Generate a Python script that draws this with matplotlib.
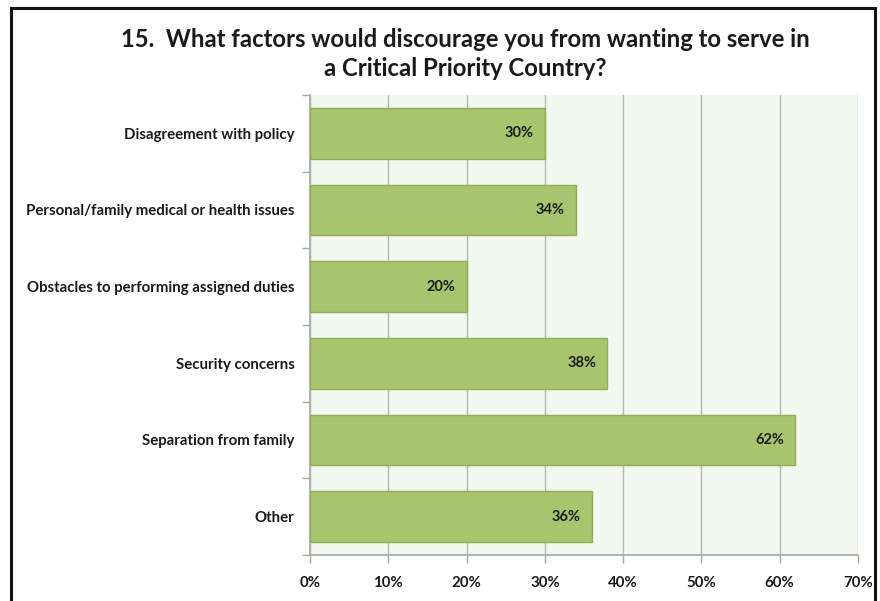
import numpy as np
import matplotlib.pyplot as plt
from matplotlib.patches import Rectangle
from matplotlib.ticker import FuncFormatter

categorias = ["Disagreement with policy",
              "Personal/family medical or health issues",
              "Obstacles to performing assigned duties",
              "Security concerns",
              "Separation from family",
              "Other"]
valores = [30, 34, 20, 38, 62, 36]
titulo = "15.  What factors would discourage you from wanting to serve in\na Critical Priority Country?"

plt.rcParams['font.family'] = ['Lato', 'DejaVu Sans']

fig = plt.figure(figsize=(8.8, 6.01), dpi=100)
W, H = 880, 601
ax = fig.add_axes([310 / W, 1 - 555 / H, (858 - 310) / W, (555 - 95) / H])

# moldura do grafico
fig.patches.append(Rectangle((11 / W, -0.01), (875 - 11) / W, 1 - 8 / H + 0.01,
                             transform=fig.transFigure, fill=False,
                             edgecolor='#111111', linewidth=2.2))

y = np.arange(len(categorias))
ax.barh(y, valores, height=0.66, color='#A9C46E', edgecolor='#8DAE52',
        linewidth=1, zorder=3)

for yi, v in zip(y, valores):
    ax.annotate(f"{v}%", (v, yi), xytext=(-8, 0), textcoords='offset points',
                ha='right', va='center', fontsize=10.5, fontweight='bold',
                color='#1a1a1a', zorder=4)

ax.set_xlim(0, 70)
ax.set_ylim(len(categorias) - 0.5, -0.5)
ax.set_xticks(np.arange(0, 71, 10))
ax.xaxis.set_major_formatter(FuncFormatter(lambda v, p: f"{int(v)}%"))
ax.set_yticks(y)
ax.set_yticklabels(categorias)
ax.set_yticks(np.arange(-0.5, len(categorias), 1), minor=True)

ax.set_facecolor('#F2F7EF')
ax.grid(True, axis='x', color='#B5B5B5', linewidth=1, zorder=0)
for s in ['top', 'right']:
    ax.spines[s].set_visible(False)
for s in ['left', 'bottom']:
    ax.spines[s].set_color('#A8A8A8')
    ax.spines[s].set_linewidth(1.2)

ax.tick_params(axis='y', which='major', length=0, pad=11)
ax.tick_params(axis='y', which='minor', length=6, color='#A8A8A8', width=1)
ax.tick_params(axis='x', length=6, color='#A8A8A8', width=1, pad=9)
for lab in ax.get_yticklabels() + ax.get_xticklabels():
    lab.set_fontweight('bold')
    lab.set_fontsize(10.8)
    lab.set_color('#1a1a1a')

fig.text(465 / W, 1 - 54 / H, titulo, ha='center', va='center',
         fontsize=17.2, fontweight='bold', color='#1a1a1a', linespacing=1.3)

fig.savefig("out.png", dpi=100)
